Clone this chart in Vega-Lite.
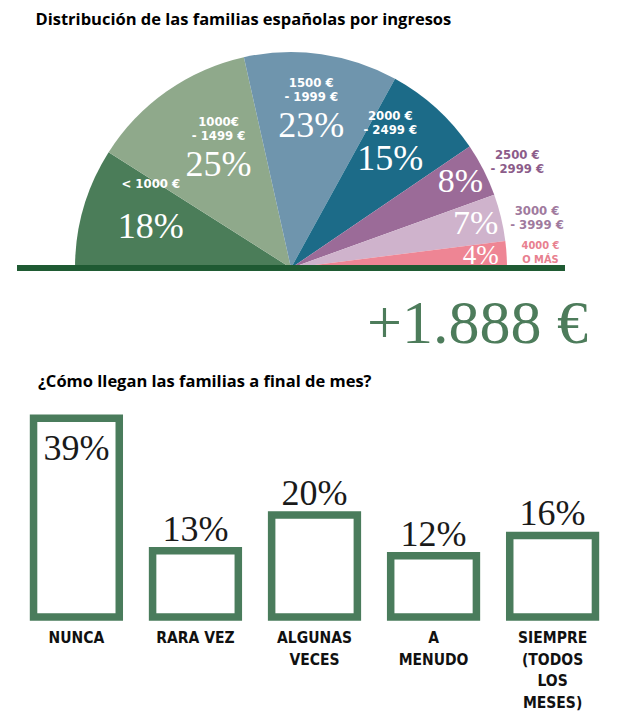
{
  "$schema": "https://vega.github.io/schema/vega-lite/v6.json",
  "background": "white",
  "padding": {"left": 14, "top": 11, "right": 5, "bottom": 5},
  "bounds": "flush",
  "spacing": 135,
  "config": {
    "view": {"stroke": null},
    "title": {"font": "Open Sans", "fontSize": 16.5, "fontWeight": "bold", "color": "#000000", "anchor": "start"}
  },
  "vconcat": [
    {
      "width": 548,
      "height": 223,
      "title": {"text": "Distribución de las familias españolas por ingresos", "dx": 21, "offset": 17},
      "data": {
        "values": [
          {"i": 1, "rango": "< 1000 €", "pct": 18, "txt": "18%"},
          {"i": 2, "rango": "1000€\n- 1499 €", "pct": 25, "txt": "25%"},
          {"i": 3, "rango": "1500 €\n- 1999 €", "pct": 23, "txt": "23%"},
          {"i": 4, "rango": "2000 €\n- 2499 €", "pct": 15, "txt": "15%"},
          {"i": 5, "rango": "2500 €\n- 2999 €", "pct": 8, "txt": "8%"},
          {"i": 6, "rango": "3000 €\n- 3999 €", "pct": 7, "txt": "7%"},
          {"i": 7, "rango": "4000 €\nO MÁS", "pct": 4, "txt": "4%"}
        ]
      },
      "resolve": {"scale": {"radius": "independent"}},
      "layer": [
        {
          "mark": {"type": "arc", "radius": 216},
          "encoding": {
            "theta": {"field": "pct", "type": "quantitative", "stack": true, "scale": {"range": [-1.5708, 1.5708]}},
            "order": {"field": "i", "type": "quantitative"},
            "y": {"value": "height"},
            "color": {
              "field": "rango", "type": "nominal", "legend": null,
              "scale": {
                "domain": ["< 1000 €", "1000€\n- 1499 €", "1500 €\n- 1999 €", "2000 €\n- 2499 €", "2500 €\n- 2999 €", "3000 €\n- 3999 €", "4000 €\nO MÁS"],
                "range": ["#4b7d59", "#8fa98b", "#6f95ad", "#1c6b88", "#9b6b98", "#cfb3cc", "#ee8594"]
              }
            }
          }
        },
        {
          "mark": {"type": "text", "font": "Liberation Serif", "align": "center", "baseline": "middle", "color": "#ffffff"},
          "encoding": {
            "theta": {"field": "pct", "type": "quantitative", "stack": true},
            "order": {"field": "i", "type": "quantitative"},
            "y": {"value": "height"},
            "radius": {"field": "pct", "type": "quantitative", "scale": {"type": "linear", "zero": false, "domain": [4, 9, 10, 24, 25], "range": [190, 190, 150, 143, 126]}, "legend": null},
            "size": {"condition": [{"test": "datum.pct < 5", "value": 27}, {"test": "datum.pct < 10", "value": 34}], "value": 36},
            "text": {"field": "txt"}
          }
        },
        {
          "mark": {
            "type": "text", "font": "DejaVu Sans Condensed", "fontWeight": "bold", "align": "center",
            "lineBreak": "\n", "lineHeight": 14,
            "baseline": {"expr": "datum.pct < 10 ? 'middle' : 'bottom'"},
            "dy": {"expr": "datum.pct < 5 ? -6 : (datum.pct < 10 ? 2 : -36)"}
          },
          "encoding": {
            "theta": {"field": "pct", "type": "quantitative", "stack": true},
            "order": {"field": "i", "type": "quantitative"},
            "y": {"value": "height"},
            "radius": {"field": "pct", "type": "quantitative", "scale": {"type": "linear", "zero": false, "domain": [4, 9, 10, 24, 25], "range": [250, 255, 150, 143, 126]}, "legend": null},
            "size": {"condition": {"test": "datum.pct < 5", "value": 11}, "value": 13},
            "color": {"condition": [{"test": "datum.pct >= 10", "value": "#ffffff"}, {"test": "datum.pct == 8", "value": "#8c5c8a"}, {"test": "datum.pct == 7", "value": "#9f7a9e"}], "value": "#e8808f"},
            "text": {"field": "rango"}
          }
        },
        {
          "mark": {"type": "rule", "color": "#1f5a33", "strokeWidth": 5},
          "encoding": {"y": {"value": "height"}}
        },
        {
          "data": {"values": [{"t": "+1.888 €"}]},
          "mark": {"type": "text", "font": "Liberation Serif", "fontSize": 62, "color": "#4d7c5b", "align": "right", "baseline": "alphabetic", "dx": 23, "dy": 75},
          "encoding": {"text": {"field": "t"}, "x": {"value": "width"}, "y": {"value": "height"}}
        }
      ]
    },
    {
      "width": 595,
      "height": 214,
      "title": {"text": "¿Cómo llegan las familias a final de mes?", "dx": 21, "offset": 13},
      "data": {
        "values": [
          {"cat": "NUNCA", "pct": 39, "txt": "39%"},
          {"cat": "RARA VEZ", "pct": 13, "txt": "13%"},
          {"cat": "ALGUNAS\nVECES", "pct": 20, "txt": "20%"},
          {"cat": "A\nMENUDO", "pct": 12, "txt": "12%"},
          {"cat": "SIEMPRE\n(TODOS\nLOS\nMESES)", "pct": 16, "txt": "16%"}
        ]
      },
      "encoding": {
        "x": {"field": "cat", "type": "nominal", "sort": null, "axis": null, "scale": {"paddingInner": 0.28, "paddingOuter": 0.139}}
      },
      "layer": [
        {
          "mark": {"type": "bar", "fill": "#ffffff", "stroke": "#4a7c5c", "strokeWidth": 7.5},
          "encoding": {"y": {"field": "pct", "type": "quantitative", "axis": null, "scale": {"domain": [0, 42], "nice": false}}}
        },
        {
          "mark": {"type": "text", "font": "Liberation Serif", "fontSize": 36, "color": "#1a1a1a", "align": "center", "baseline": "alphabetic", "dy": {"expr": "datum.pct > 30 ? 42 : -10"}},
          "encoding": {"y": {"field": "pct", "type": "quantitative"}, "text": {"field": "txt"}}
        },
        {
          "mark": {"type": "text", "font": "DejaVu Sans Condensed", "fontWeight": "bold", "fontSize": 15.5, "color": "#111111", "align": "center", "baseline": "top", "lineBreak": "\n", "lineHeight": 21.5, "dy": 14},
          "encoding": {"y": {"datum": 0, "type": "quantitative"}, "text": {"field": "cat"}}
        }
      ]
    }
  ]
}
